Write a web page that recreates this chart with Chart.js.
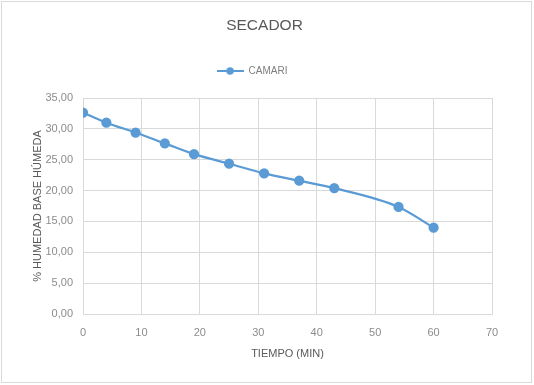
<!DOCTYPE html>
<html>
<head>
<meta charset="utf-8">
<script src="https://cdn.jsdelivr.net/npm/chart.js@4.4.1/dist/chart.umd.min.js"></script>
<style>
  html, body { margin: 0; padding: 0; background: #fff; }
  #wrap { width: 534px; height: 385px; }
</style>
</head>
<body>
<div id="wrap"><canvas id="chart" width="534" height="385"></canvas></div>
<script>
// datos
const tiempo = [0, 4, 9, 14, 19, 25, 31, 37, 43, 54, 60];
const humedad = [32.65, 31.0, 29.4, 27.65, 25.9, 24.35, 22.8, 21.6, 20.4, 17.35, 14.0];
const serieNombre = "CAMARI";
const xTicks = [0, 10, 20, 30, 40, 50, 60, 70];
const yTicks = [0, 5, 10, 15, 20, 25, 30, 35];

const azul = "#5B9BD5";
const gris = "#d9d9d9";
const fuente = "'Liberation Sans', Arial, sans-serif";

// icono de leyenda: linea con marcador
const icono = document.createElement("canvas");
icono.width = 27;
icono.height = 10;
const ic = icono.getContext("2d");
ic.strokeStyle = azul;
ic.lineWidth = 2;
ic.beginPath();
ic.moveTo(0, 5);
ic.lineTo(27, 5);
ic.stroke();
ic.fillStyle = azul;
ic.beginPath();
ic.arc(13.5, 5, 3.75, 0, Math.PI * 2);
ic.fill();

const borde = {
  id: "borde",
  afterDraw(chart) {
    const c = chart.ctx;
    c.save();
    c.strokeStyle = gris;
    c.lineWidth = 1;
    c.strokeRect(1.5, 1.5, 530, 381);
    c.restore();
  },
};

// espacio extra bajo la leyenda y pequeños desplazamientos como en Excel
const ajuste = {
  id: "ajuste",
  beforeLayout(chart) {
    const lg = chart.legend;
    if (lg && !lg._ajustado) {
      const fit = lg.fit.bind(lg);
      lg.fit = function () {
        fit();
        this.height += 12;
      };
      lg._ajustado = true;
    }
  },
  afterLayout(chart) {
    chart.legend.left -= 15;
    chart.legend.right -= 15;
    chart.titleBlock.left -= 2.5;
    chart.titleBlock.right -= 2.5;
  },
};

new Chart(document.getElementById("chart"), {
  type: "scatter",
  data: {
    datasets: [
      {
        label: serieNombre,
        data: tiempo.map((t, i) => ({ x: t, y: humedad[i] })),
        showLine: true,
        borderColor: azul,
        backgroundColor: azul,
        borderWidth: 2.25,
        pointRadius: 4,
        pointHoverRadius: 4,
        tension: 0.4,
        cubicInterpolationMode: "monotone",
      },
    ],
  },
  options: {
    responsive: false,
    animation: false,
    layout: { padding: 0 },
    plugins: {
      tooltip: { enabled: false },
      title: {
        display: true,
        text: "SECADOR",
        color: "#595959",
        font: { family: fuente, size: 15.5, weight: "normal" },
        padding: { top: 16.7, bottom: 20.7 },
      },
      legend: {
        display: true,
        labels: {
          usePointStyle: true,
          pointStyleWidth: 27,
          color: "#7f7f7f",
          font: { family: fuente, size: 10 },
          padding: 10,
          generateLabels(chart) {
            return Chart.defaults.plugins.legend.labels.generateLabels(chart).map((l) => {
              l.pointStyle = icono;
              return l;
            });
          },
        },
      },
    },
    scales: {
      x: {
        type: "linear",
        min: 0,
        max: 70,
        afterBuildTicks(scale) {
          scale.ticks = xTicks.map((v) => ({ value: v }));
        },
        afterFit(scale) {
          scale.height = 71;
        },
        grid: { color: gris, lineWidth: 1, drawTicks: false },
        border: { color: gris },
        ticks: {
          color: "#8c8c8c",
          font: { family: fuente, size: 11 },
          padding: 12,
          maxRotation: 0,
        },
        title: {
          display: true,
          text: "TIEMPO (MIN)",
          color: "#595959",
          font: { family: fuente, size: 11 },
          padding: { top: 0, bottom: 24 },
        },
      },
      y: {
        type: "linear",
        min: 0,
        max: 35,
        afterBuildTicks(scale) {
          scale.ticks = yTicks.map((v) => ({ value: v }));
        },
        afterFit(scale) {
          scale.width = 83;
        },
        grid: { color: gris, lineWidth: 1, drawTicks: false },
        border: { color: gris },
        ticks: {
          color: "#8c8c8c",
          font: { family: fuente, size: 11 },
          padding: 10,
          callback: (v) => v.toFixed(2).replace(".", ","),
        },
        title: {
          display: true,
          text: "% HUMEDAD BASE HÚMEDA",
          color: "#595959",
          font: { family: fuente, size: 11 },
          padding: { top: 31, bottom: 0 },
        },
      },
      // eje vacio a la derecha para dejar el margen del area de trazado
      derecha: {
        type: "linear",
        position: "right",
        display: true,
        grid: { display: false },
        border: { display: false },
        ticks: { display: false },
        afterFit(scale) {
          scale.width = 42;
        },
      },
    },
  },
  plugins: [borde, ajuste],
});
</script>
</body>
</html>
